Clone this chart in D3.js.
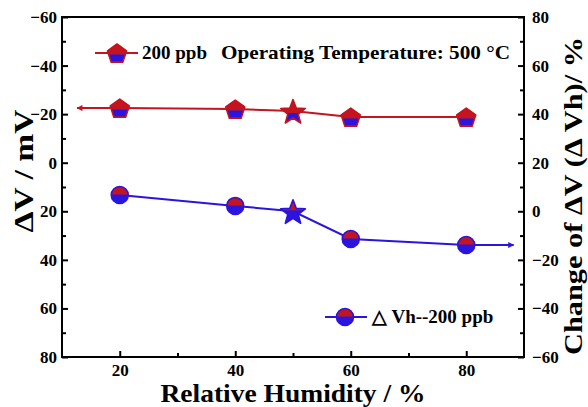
<!DOCTYPE html>
<html lang="en">
<head>
  <meta charset="UTF-8">
  <title>Delta V vs Relative Humidity</title>
  <script src="https://d3js.org/d3.v7.min.js"></script>
  <style>
    body { margin: 0; background: #fff; }
    text { font-family: "Liberation Serif", "Times New Roman", serif; font-weight: bold; fill: #000; }
    .axis path.domain { display: none; }
    .axis line { stroke: #000; stroke-width: 2; }
    .axis text { font-size: 17px; }
    .frame { fill: none; stroke: #000; stroke-width: 2; }
  </style>
</head>
<body>
  <script>
    // data
    const humidity = [20, 40, 50, 60, 80];           // RH %
    const deltaV = [-22.5, -22.1, -21.3, -18.8, -18.8]; // mV, left axis (red)
    const changeVh = [6.7, 2.2, 0, -11.4, -13.9];      // %, right axis (blue)
    const refHumidity = 50;                            // star marker

    const xTicks = [20, 40, 60, 80];
    const xMinor = [30, 50, 70];
    const leftTicks = [-60, -40, -20, 0, 20, 40, 60, 80];
    const leftMinor = [-50, -30, -10, 10, 30, 50, 70];
    const rightTicks = [80, 60, 40, 20, 0, -20, -40, -60];
    const rightMinor = [70, 50, 30, 10, -10, -30, -50];

    const RED = '#c4141e';
    const BLUE = '#2a14e0';

    const W = 588, H = 407;
    const margin = {top: 17, right: 64, bottom: 50, left: 62};
    const width = W - margin.left - margin.right;
    const height = H - margin.top - margin.bottom;

    const x = d3.scaleLinear().domain([10, 90]).range([0, width]);
    const yL = d3.scaleLinear().domain([-60, 80]).range([0, height]);
    const yR = d3.scaleLinear().domain([80, -60]).range([0, height]);

    const svg = d3.select('body').append('svg')
      .attr('width', W).attr('height', H);
    const defs = svg.append('defs');
    const g = svg.append('g').attr('transform', `translate(${margin.left},${margin.top})`);

    // axes (ticks point inward)
    g.append('g').attr('class', 'axis').attr('transform', `translate(0,${height})`)
      .call(d3.axisBottom(x).tickValues(xTicks).tickSize(-6).tickPadding(7));
    g.append('g').attr('class', 'axis').attr('transform', `translate(0,${height})`)
      .call(d3.axisBottom(x).tickValues(xMinor).tickSize(-4).tickFormat(''));

    g.append('g').attr('class', 'axis')
      .call(d3.axisLeft(yL).tickValues(leftTicks).tickSize(-6).tickPadding(5));
    g.append('g').attr('class', 'axis')
      .call(d3.axisLeft(yL).tickValues(leftMinor).tickSize(-4).tickFormat(''));

    g.append('g').attr('class', 'axis').attr('transform', `translate(${width},0)`)
      .call(d3.axisRight(yR).tickValues(rightTicks).tickSize(-6).tickPadding(8));
    g.append('g').attr('class', 'axis').attr('transform', `translate(${width},0)`)
      .call(d3.axisRight(yR).tickValues(rightMinor).tickSize(-4).tickFormat(''));

    g.append('rect').attr('class', 'frame')
      .attr('width', width).attr('height', height);

    // markers: two-tone shapes (top colour / bottom colour)
    let clipId = 0;
    function pentagon(r) {
      return d3.range(5).map(i => {
        const a = -Math.PI / 2 + i * 2 * Math.PI / 5;
        return [r * Math.cos(a), r * Math.sin(a) + 1];
      });
    }
    function star(R, r) {
      return d3.range(10).map(i => {
        const a = -Math.PI / 2 + i * Math.PI / 5;
        const rr = i % 2 ? r : R;
        return [rr * Math.cos(a), rr * Math.sin(a) + 1.5];
      });
    }
    function marker(parent, shape, cx, cy, top, bottom, stroke, split) {
      const m = parent.append('g').attr('transform', `translate(${cx},${cy})`);
      const id = 'clip' + (clipId++);
      defs.append('clipPath').attr('id', id)
        .append('rect').attr('x', -20).attr('y', -20).attr('width', 40).attr('height', 20 + split);
      let make;
      if (shape === 'circle') {
        make = sel => sel.append('circle').attr('r', 8.5);
      } else {
        const pts = shape === 'star' ? star(13, 5.5) : pentagon(10);
        make = sel => sel.append('path').attr('d', d3.line()(pts) + 'Z');
      }
      make(m).attr('fill', bottom);
      make(m).attr('fill', top).attr('clip-path', `url(#${id})`);
      make(m).attr('fill', 'none').attr('stroke', stroke).attr('stroke-width', 1.6)
        .attr('stroke-linejoin', 'round');
    }

    // arrow heads
    function arrowDef(id, color) {
      defs.append('marker').attr('id', id)
        .attr('viewBox', '0 0 10 10').attr('refX', 9).attr('refY', 5)
        .attr('markerWidth', 9).attr('markerHeight', 6).attr('markerUnits', 'userSpaceOnUse')
        .attr('orient', 'auto')
        .append('path').attr('d', 'M0,0L10,5L0,10Z').attr('fill', color);
    }
    arrowDef('arrRed', RED);
    arrowDef('arrBlue', BLUE);

    const redData = humidity.map((h, i) => ({h, v: deltaV[i]}));
    const blueData = humidity.map((h, i) => ({h, v: changeVh[i]}));

    // red series: left axis, arrow pointing to the left axis
    g.append('line')
      .attr('x1', x(redData[0].h)).attr('y1', yL(redData[0].v))
      .attr('x2', x(12.6)).attr('y2', yL(redData[0].v))
      .attr('stroke', RED).attr('stroke-width', 2).attr('marker-end', 'url(#arrRed)');
    g.append('path').datum(redData)
      .attr('d', d3.line().x(d => x(d.h)).y(d => yL(d.v)))
      .attr('fill', 'none').attr('stroke', RED).attr('stroke-width', 2);

    // blue series: right axis, arrow pointing to the right axis
    const lastB = blueData[blueData.length - 1];
    g.append('line')
      .attr('x1', x(lastB.h)).attr('y1', yR(lastB.v))
      .attr('x2', x(88.2)).attr('y2', yR(lastB.v))
      .attr('stroke', BLUE).attr('stroke-width', 2).attr('marker-end', 'url(#arrBlue)');
    g.append('path').datum(blueData)
      .attr('d', d3.line().x(d => x(d.h)).y(d => yR(d.v)))
      .attr('fill', 'none').attr('stroke', BLUE).attr('stroke-width', 2);

    redData.forEach(d => {
      const ref = d.h === refHumidity;
      marker(g, ref ? 'star' : 'pentagon', x(d.h), yL(d.v), RED, BLUE, RED, ref ? 2 : 1.5);
    });
    blueData.forEach(d => {
      const ref = d.h === refHumidity;
      marker(g, ref ? 'star' : 'circle', x(d.h), yR(d.v), RED, BLUE, BLUE, ref ? -1 : -0.5);
    });

    // legends
    const lg1 = svg.append('g');
    lg1.append('line').attr('x1', 95).attr('x2', 138).attr('y1', 53).attr('y2', 53)
      .attr('stroke', RED).attr('stroke-width', 2);
    marker(lg1, 'pentagon', 117, 53, RED, BLUE, RED, 1.5);
    lg1.append('text').attr('x', 142).attr('y', 59).style('font-size', '19px').text('200 ppb');
    svg.append('text').attr('x', 221).attr('y', 59).style('font-size', '19px')
      .attr('textLength', 289).attr('lengthAdjust', 'spacingAndGlyphs')
      .text('Operating Temperature: 500 °C');

    const lg2 = svg.append('g');
    lg2.append('line').attr('x1', 325).attr('x2', 367).attr('y1', 317).attr('y2', 317)
      .attr('stroke', BLUE).attr('stroke-width', 2);
    marker(lg2, 'circle', 345, 317, RED, BLUE, BLUE, -0.5);
    lg2.append('text').attr('x', 372).attr('y', 323).style('font-size', '19px')
      .text('\u25B3 Vh--200 ppb');

    // axis titles
    svg.append('text').attr('x', 293).attr('y', 402).attr('text-anchor', 'middle')
      .style('font-size', '25px')
      .attr('textLength', 265).attr('lengthAdjust', 'spacingAndGlyphs')
      .text('Relative Humidity / %');
    svg.append('text').attr('transform', 'translate(33,171) rotate(-90)')
      .attr('text-anchor', 'middle').style('font-size', '27px')
      .attr('textLength', 123).attr('lengthAdjust', 'spacingAndGlyphs')
      .text('\u0394V / mV');
    svg.append('text').attr('transform', 'translate(582,196) rotate(-90)')
      .attr('text-anchor', 'middle').style('font-size', '25px')
      .attr('textLength', 318).attr('lengthAdjust', 'spacingAndGlyphs')
      .text('Change of \u0394V (\u0394 Vh)/ %');
  </script>
</body>
</html>
